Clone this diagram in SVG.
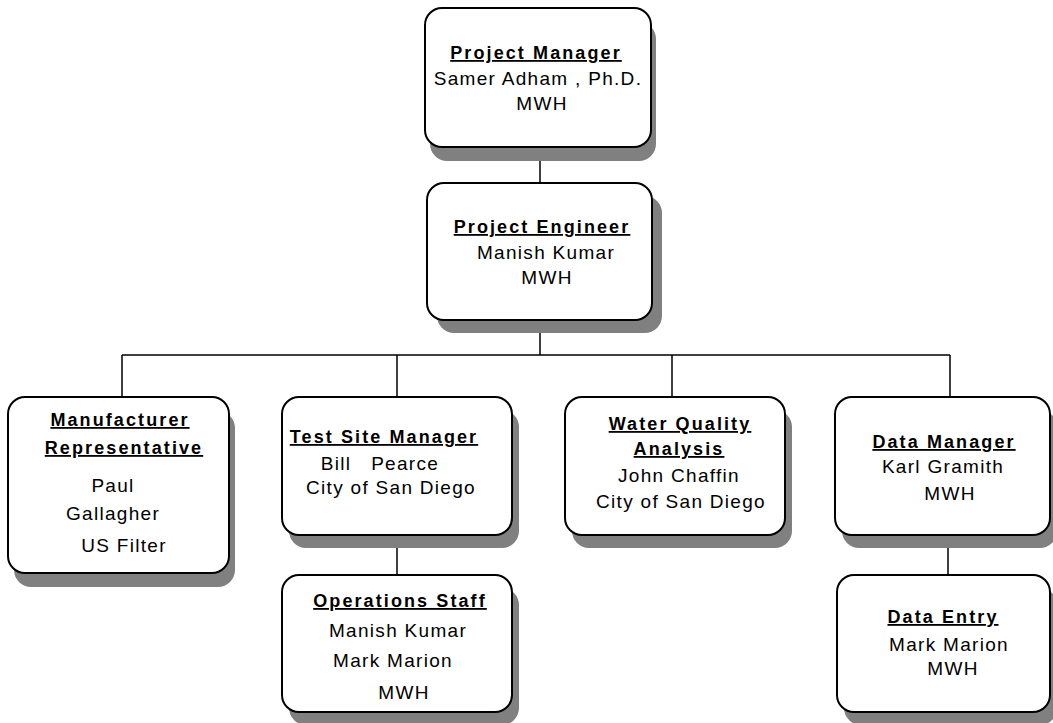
<svg xmlns="http://www.w3.org/2000/svg" width="1053" height="723" viewBox="0 0 1053 723">
<style>
.bg{fill:#ffffff}
.shadow{fill:#808080}
.box{fill:#ffffff;stroke:#000000;stroke-width:2}
.conn{stroke:#000000;stroke-width:1.5;fill:none}
text{font-family:"Liberation Sans",Arial,sans-serif;fill:#000000;text-anchor:middle}
.t{font-size:18px;font-weight:bold;letter-spacing:2.1px;text-decoration:underline}
.n{font-size:19px;letter-spacing:1.3px;white-space:pre}
</style>
<rect class="bg" x="0" y="0" width="1053" height="723"/>
<g id="connectors">
<path class="conn" d="M540 147V183M540 320V355M122 355H950M122 355V397M397 355V397M672 355V397M950 355V397M397 535V575M948 535V575"/>
</g>
<g id="project-manager">
<rect class="shadow" x="430" y="22" width="226" height="139" rx="17"/>
<rect class="box" x="425" y="8" width="226" height="139" rx="17"/>
<text class="t" x="536" y="59">Project Manager</text>
<text class="n" x="538" y="85">Samer Adham , Ph.D.</text>
<text class="n" x="542" y="110">MWH</text>
</g>
<g id="project-engineer">
<rect class="shadow" x="437" y="196" width="225" height="137" rx="17"/>
<rect class="box" x="427" y="183" width="225" height="137" rx="17"/>
<text class="t" x="542" y="233">Project Engineer</text>
<text class="n" x="546" y="259">Manish Kumar</text>
<text class="n" x="547" y="284">MWH</text>
</g>
<g id="manufacturer-representative">
<rect class="shadow" x="14" y="411" width="221" height="176" rx="17"/>
<rect class="box" x="8" y="397" width="221" height="176" rx="17"/>
<text class="t" x="120" y="426">Manufacturer</text>
<text class="t" x="124" y="454">Representative</text>
<text class="n" x="113" y="492">Paul</text>
<text class="n" x="113" y="520">Gallagher</text>
<text class="n" x="124" y="552">US Filter</text>
</g>
<g id="test-site-manager">
<rect class="shadow" x="289" y="410" width="230" height="138" rx="17"/>
<rect class="box" x="282" y="397" width="230" height="138" rx="17"/>
<text class="t" x="384" y="443">Test Site Manager</text>
<text class="n" x="380" y="470" xml:space="preserve">Bill   Pearce</text>
<text class="n" x="391" y="494">City of San Diego</text>
</g>
<g id="water-quality-analysis">
<rect class="shadow" x="572" y="410" width="220" height="138" rx="17"/>
<rect class="box" x="565" y="397" width="220" height="138" rx="17"/>
<text class="t" x="680" y="430">Water Quality</text>
<text class="t" x="679" y="455">Analysis</text>
<text class="n" x="679" y="482">John Chaffin</text>
<text class="n" x="681" y="508">City of San Diego</text>
</g>
<g id="data-manager">
<rect class="shadow" x="842" y="410" width="215" height="138" rx="17"/>
<rect class="box" x="835" y="397" width="215" height="138" rx="17"/>
<text class="t" x="944" y="448">Data Manager</text>
<text class="n" x="943" y="473">Karl Gramith</text>
<text class="n" x="950" y="500">MWH</text>
</g>
<g id="operations-staff">
<rect class="shadow" x="289" y="588" width="230" height="137" rx="17"/>
<rect class="box" x="282" y="575" width="230" height="137" rx="17"/>
<text class="t" x="400" y="607">Operations Staff</text>
<text class="n" x="398" y="637">Manish Kumar</text>
<text class="n" x="393" y="667">Mark Marion</text>
<text class="n" x="404" y="699">MWH</text>
</g>
<g id="data-entry">
<rect class="shadow" x="844" y="588" width="213" height="137" rx="17"/>
<rect class="box" x="837" y="575" width="213" height="137" rx="17"/>
<text class="t" x="943" y="623">Data Entry</text>
<text class="n" x="949" y="651">Mark Marion</text>
<text class="n" x="953" y="675">MWH</text>
</g>
</svg>
